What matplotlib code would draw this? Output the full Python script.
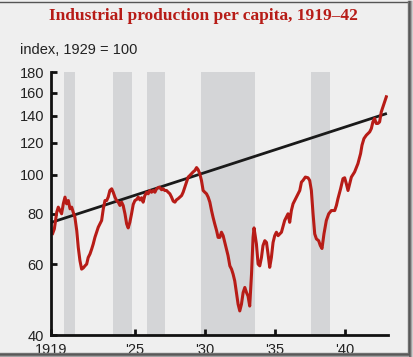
import matplotlib
matplotlib.use("Agg")
import matplotlib.pyplot as plt
from matplotlib.lines import Line2D
from matplotlib.ticker import FixedLocator, NullLocator

# industrial production per capita, index 1929 = 100
years = [1919.12, 1919.24, 1919.41, 1919.52, 1919.64, 1919.76, 1919.88, 1920.0,
         1920.12, 1920.24, 1920.36, 1920.48, 1920.59, 1920.71, 1920.84, 1920.95,
         1921.07, 1921.19, 1921.31, 1921.43, 1921.55, 1921.66, 1921.79, 1921.91,
         1922.02, 1922.14, 1922.26, 1922.38, 1922.5, 1922.62, 1922.74, 1922.86,
         1922.98, 1923.09, 1923.21, 1923.34, 1923.45, 1923.57, 1923.69, 1923.81,
         1923.93, 1924.05, 1924.16, 1924.29, 1924.41, 1924.52, 1924.64, 1924.76,
         1924.88, 1925.0, 1925.12, 1925.24, 1925.36, 1925.48, 1925.59, 1925.71,
         1925.84, 1925.95, 1926.07, 1926.19, 1926.31, 1926.43, 1926.55, 1926.74,
         1926.91, 1927.02, 1927.14, 1927.26, 1927.38, 1927.5, 1927.62, 1927.74,
         1927.86, 1927.98, 1928.09, 1928.21, 1928.34, 1928.45, 1928.57, 1928.69,
         1928.81, 1928.93, 1929.05, 1929.16, 1929.29, 1929.41, 1929.52, 1929.64,
         1929.76, 1929.88, 1930.0, 1930.12, 1930.24, 1930.36, 1930.48, 1930.59,
         1930.71, 1930.84, 1930.95, 1931.07, 1931.19, 1931.31, 1931.43, 1931.55,
         1931.66, 1931.79, 1931.91, 1932.02, 1932.14, 1932.26, 1932.38, 1932.5,
         1932.62, 1932.74, 1932.86, 1932.98, 1933.09, 1933.21, 1933.34, 1933.45,
         1933.52, 1933.69, 1933.81, 1933.93, 1934.05, 1934.16, 1934.29, 1934.41,
         1934.52, 1934.64, 1934.76, 1934.88, 1935.0, 1935.12, 1935.24, 1935.48,
         1935.71, 1935.95, 1936.07, 1936.19, 1936.31, 1936.55, 1936.79, 1936.91,
         1937.02, 1937.19, 1937.38, 1937.5, 1937.62, 1937.74, 1937.86, 1937.98,
         1938.14, 1938.26, 1938.38, 1938.52, 1938.69, 1938.86, 1939.05, 1939.29,
         1939.41, 1939.52, 1939.71, 1939.88, 1940.0, 1940.12, 1940.24, 1940.36,
         1940.48, 1940.71, 1940.95, 1941.14, 1941.24, 1941.38, 1941.55, 1941.79,
         1941.91, 1942.02, 1942.14, 1942.26, 1942.38, 1942.5, 1942.62, 1942.74,
         1942.86, 1942.98]
index = [71.5, 73.4, 80.7, 83.1, 81.5, 80.0, 84.7, 88.0,
         84.7, 86.3, 82.3, 83.1, 80.7, 78.4, 72.7, 66.0,
         61.2, 58.3, 58.7, 59.4, 60.0, 62.3, 63.6, 65.4,
         67.3, 69.9, 72.0, 74.1, 75.5, 77.0, 82.3, 86.3,
         86.3, 88.0, 91.4, 92.3, 90.5, 88.0, 86.3, 85.5,
         83.9, 85.5, 83.9, 80.0, 75.5, 73.8, 76.2, 80.0,
         84.4, 86.3, 86.8, 88.0, 86.6, 87.7, 85.5, 88.8,
         90.5, 89.7, 91.4, 90.5, 91.4, 90.5, 92.3, 93.2,
         91.8, 92.3, 91.4, 91.4, 90.5, 89.7, 88.0, 86.0,
         85.5, 86.7, 87.2, 88.0, 88.8, 90.5, 93.2, 95.9,
         98.7, 99.6, 100.6, 101.6, 102.5, 104.2, 103.0, 100.6,
         96.8, 91.4, 90.5, 89.7, 88.0, 85.5, 81.5, 78.4,
         75.5, 72.7, 69.9, 69.9, 72.0, 70.6, 67.9, 65.4,
         63.0, 59.4, 58.3, 56.7, 54.5, 51.0, 47.7, 45.9,
         47.7, 51.0, 52.5, 51.0, 50.0, 47.2, 56.7, 69.9,
         73.8, 67.3, 60.0, 59.4, 62.3, 66.7, 68.6, 67.9,
         63.6, 58.9, 62.3, 67.9, 70.6, 72.0, 70.6, 72.0,
         77.0, 80.0, 76.2, 81.5, 84.7, 88.0, 91.4, 95.9,
         96.8, 98.7, 98.3, 96.8, 91.4, 80.0, 71.3, 69.3,
         68.6, 66.7, 65.6, 71.3, 77.0, 80.0, 81.5, 81.5,
         83.9, 87.2, 92.3, 97.8, 98.3, 95.0, 91.4, 95.0,
         98.7, 101.6, 106.6, 112.9, 118.4, 123.0, 125.4, 127.8,
         130.3, 135.3, 138.0, 134.1, 134.1, 135.3, 143.3, 147.5,
         151.8, 156.2]

trend_years = [1919.05, 1943.02]
trend_index = [76.2, 142.0]

recessions = [(1919.95, 1920.74), (1923.41, 1924.81), (1925.84, 1927.16),
              (1929.71, 1933.62), (1937.57, 1938.93)]

y_ticks = [40, 60, 80, 100, 120, 140, 160, 180]
x_ticks = [1919, 1925, 1930, 1935, 1940]
x_labels = ["1919", "'25", "'30", "'35", "'40"]

BG = "#efefef"
RED = "#b71c17"
BAND = "#d4d5d7"

W, H = 413, 357
fig = plt.figure(figsize=(W / 100, H / 100), dpi=100, facecolor=BG)
ax = fig.add_axes([51 / W, (H - 335) / H, (388 - 51) / W, (335 - 72) / H])
ax.set_facecolor(BG)

for start, end in recessions:
    ax.axvspan(start, end, color=BAND, lw=0, zorder=1)

ax.plot(trend_years, trend_index, color="#1a1a1a", lw=2.0, zorder=3,
        solid_capstyle="butt")
ax.plot(years, index, color=RED, lw=2.2, zorder=4, solid_joinstyle="round")

ax.set_yscale("log")
ax.set_ylim(40, 180)
ax.set_xlim(1919, 1943.1)
ax.yaxis.set_major_locator(FixedLocator(y_ticks))
ax.yaxis.set_minor_locator(NullLocator())
ax.set_yticklabels([str(t) for t in y_ticks])
ax.set_xticks(x_ticks)
ax.set_xticklabels(x_labels)

for side in ["top", "right"]:
    ax.spines[side].set_visible(False)
for side in ["left", "bottom"]:
    ax.spines[side].set_linewidth(2.0)
    ax.spines[side].set_color("#111111")
    ax.spines[side].set_zorder(5)

ax.tick_params(axis="both", direction="in", length=4, width=2, color="#111111",
               labelsize=10.5, labelcolor="#222222", pad=5)
ax.tick_params(axis="x", pad=6)
for lab in ax.get_xticklabels() + ax.get_yticklabels():
    lab.set_fontfamily("Liberation Sans")

fig.text(203 / W, 1 - 16 / H, "Industrial production per capita, 1919\u201342",
         ha="center", va="center", color=RED, fontsize=12.5, fontweight="bold",
         family="Liberation Serif")
fig.text(20 / W, 1 - 50 / H, "index, 1929 = 100", ha="left", va="center",
         color="#222222", fontsize=10.5, family="Liberation Sans")

# screenshot frame: thin top line, shadow on right and bottom
fig.add_artist(Line2D([0, 1], [1 - 1.5 / H, 1 - 1.5 / H], color="#555555", lw=1.0))
for i, c in enumerate(["#777777", "#555555", "#666666", "#999999", "#cccccc"]):
    x = (408 + i) / W
    fig.add_artist(Line2D([x, x], [0, 1 - 1 / H], color=c, lw=1.0))
    y = (H - 353 - i) / H
    fig.add_artist(Line2D([0, 408 / W], [y, y], color=c, lw=1.0))

fig.savefig("out.png", dpi=100, facecolor=BG)
